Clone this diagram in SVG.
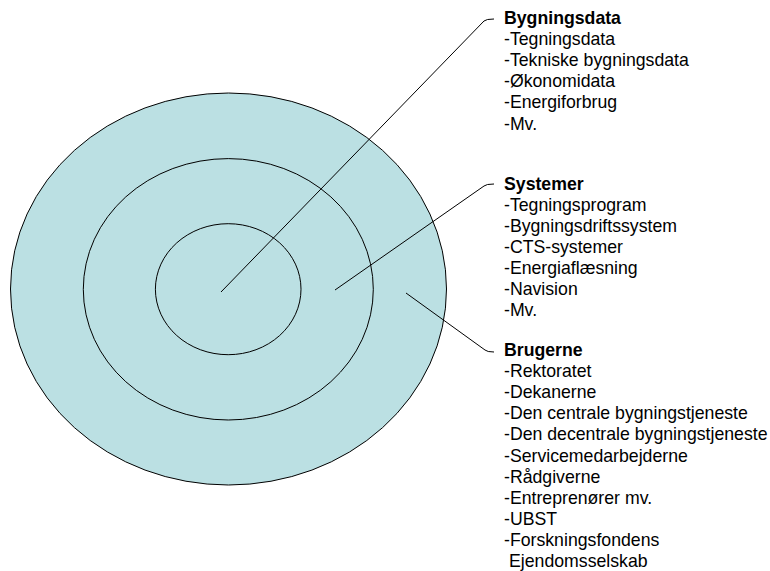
<svg xmlns="http://www.w3.org/2000/svg" width="770" height="571" viewBox="0 0 770 571">
<style>
.ring{fill:#BBE0E3;stroke:#000;stroke-width:1}
.conn{fill:none;stroke:#000;stroke-width:1}
text{font-family:"Liberation Sans",Arial,sans-serif;font-size:17.7px;fill:#000}
.title{font-weight:bold}
</style>
<rect width="770" height="571" fill="#fff"/>
<g id="outer"><ellipse class="ring" cx="228.5" cy="289" rx="218" ry="196"/></g>
<g id="middle"><ellipse class="ring" cx="228.3" cy="289.3" rx="145" ry="130.7"/></g>
<g id="inner"><ellipse class="ring" cx="228.2" cy="289.2" rx="72.8" ry="65.5"/></g>
<g id="connectors">
<path class="conn" d="M221,292 L484,21 Q486,19 494,19"/>
<path class="conn" d="M335,290 L484,186 Q486,184 494,184"/>
<path class="conn" d="M406,293 L485,350 Q487,352 494,352"/>
</g>
<g id="bygningsdata">
<text x="504" y="23.5" class="title">Bygningsdata</text>
<text x="504" y="44.7">-Tegningsdata</text>
<text x="504" y="65.9">-Tekniske bygningsdata</text>
<text x="504" y="87.1">-Økonomidata</text>
<text x="504" y="108.3">-Energiforbrug</text>
<text x="504" y="129.5">-Mv.</text>
</g>
<g id="systemer">
<text x="504" y="189.5" class="title">Systemer</text>
<text x="504" y="210.6">-Tegningsprogram</text>
<text x="504" y="231.7">-Bygningsdriftssystem</text>
<text x="504" y="252.8">-CTS-systemer</text>
<text x="504" y="273.9">-Energiaflæsning</text>
<text x="504" y="295">-Navision</text>
<text x="504" y="316.1">-Mv.</text>
</g>
<g id="brugerne">
<text x="504" y="356" class="title">Brugerne</text>
<text x="504" y="377.1">-Rektoratet</text>
<text x="504" y="398.2">-Dekanerne</text>
<text x="504" y="419.3">-Den centrale bygningstjeneste</text>
<text x="504" y="440.4">-Den decentrale bygningstjeneste</text>
<text x="504" y="461.5">-Servicemedarbejderne</text>
<text x="504" y="482.6">-Rådgiverne</text>
<text x="504" y="503.7">-Entreprenører mv.</text>
<text x="504" y="524.8">-UBST</text>
<text x="504" y="545.9">-Forskningsfondens</text>
<text x="509" y="567">Ejendomsselskab</text>
</g>
</svg>
